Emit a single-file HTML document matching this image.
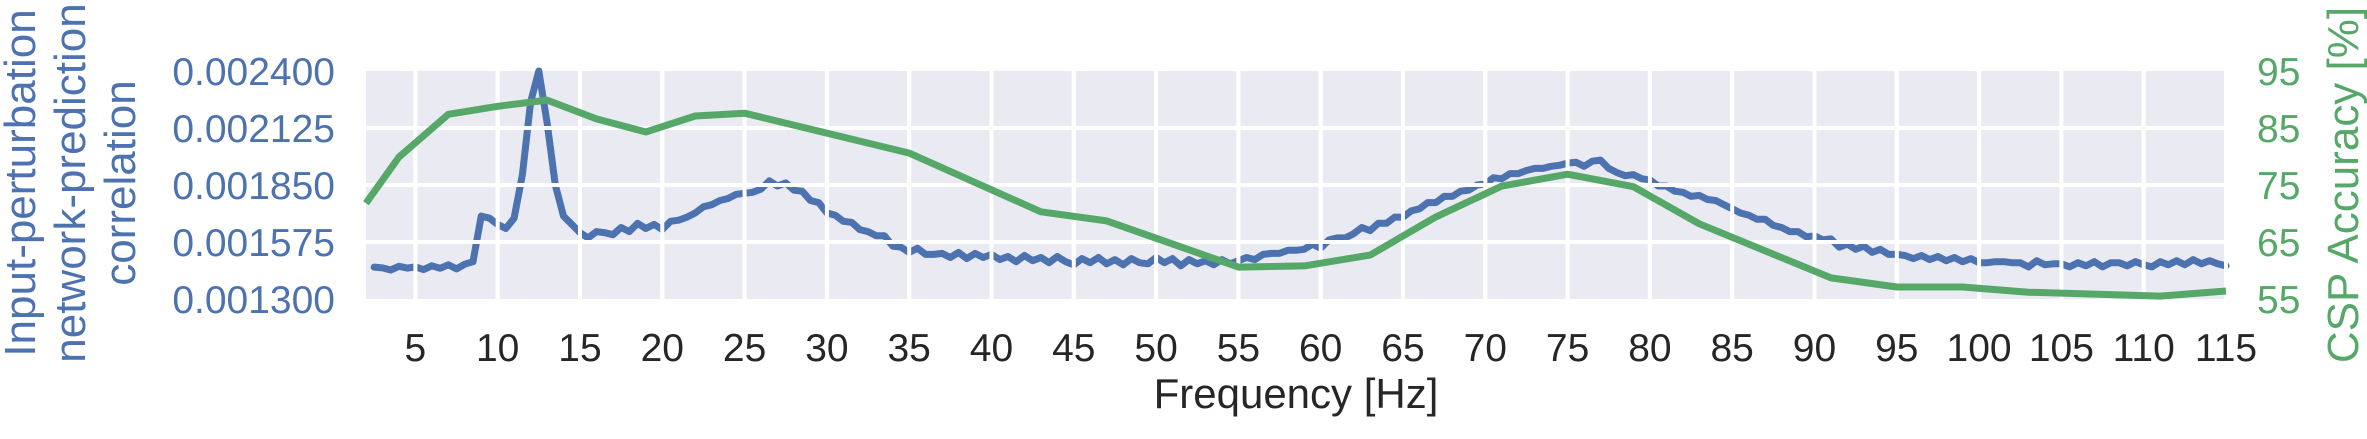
<!DOCTYPE html>
<html><head><meta charset="utf-8"><style>
body{margin:0;background:#fff;}
svg text{font-family:"Liberation Sans",sans-serif;}
</style></head><body>
<svg id="chart" width="2367" height="434" xmlns="http://www.w3.org/2000/svg">
<rect x="366" y="71" width="1860" height="228" fill="#eaeaf2"/>
<g id="grid1"></g>
<g id="blue"></g>
<g id="grid2"></g>
<g id="green"></g>
<g id="ticks"></g>
<text x="1296" y="408" font-size="42" text-anchor="middle" fill="#262626">Frequency [Hz]</text>
<g fill="#4c72b0" font-size="44" text-anchor="middle">
<text transform="translate(35,183) rotate(-90)">Input-perturbation</text>
<text transform="translate(85,183) rotate(-90)">network-prediction</text>
<text transform="translate(135,183) rotate(-90)">correlation</text>
</g>
<text transform="translate(2358,185) rotate(-90)" font-size="44" text-anchor="middle" fill="#55a868">CSP Accuracy [%]</text>
</svg>
<script>
const xTicks=[5,10,15,20,25,30,35,40,45,50,55,60,65,70,75,80,85,90,95,100,105,110,115];
const leftTicks=[0.0013,0.001575,0.00185,0.002125,0.0024];
const leftTickLabels=["0.001300","0.001575","0.001850","0.002125","0.002400"];
const rightTicks=[55,65,75,85,95];
const cspFreq=[2,4,7,10,13,16,19,22,25,35,43,47,55,59,63,67,71,75,79,83,91,95,99,103,111,115];
const cspAcc=[71.8,79.9,87.4,88.8,89.9,86.6,84.3,87.1,87.6,80.6,70.3,68.7,60.6,60.8,62.7,69.4,74.8,76.9,74.7,68.2,58.7,57.1,57.1,56.2,55.5,56.4];
const corrStart=2.5, corrStep=0.5;
const corrE6=[1454,1450,1440,1458,1449,1455,1442,1460,1448,1465,1445,1468,1480,
1700,1690,1660,1640,1690,1900,2250,2400,2150,1850,1700,1660,1620,1595,1625,1620,1610,1645,1625,1665,1640,1660,1635,1675,1680,1695,1715,1745,1755,1775,1785,1805,1810,1815,1830,1870,1845,1860,1825,1820,1775,1765,1715,1705,1675,1670,1635,1625,1605,1605,1555,1550,1525,1545,1515,1515,1520,1500,1525,1495,1520,1500,1515,1490,1505,1480,1510,1485,1500,1475,1505,1480,1465,1495,1475,1500,1470,1490,1465,1495,1475,1470,1500,1475,1495,1460,1490,1470,1485,1465,1490,1470,1485,1500,1490,1515,1520,1520,1535,1535,1540,1565,1545,1585,1595,1595,1615,1645,1630,1665,1665,1695,1695,1725,1735,1765,1765,1795,1795,1820,1825,1850,1855,1885,1880,1905,1905,1920,1930,1930,1940,1945,1955,1960,1940,1965,1970,1930,1910,1895,1900,1880,1875,1845,1845,1820,1815,1795,1800,1780,1775,1755,1735,1715,1705,1685,1685,1655,1645,1625,1625,1600,1605,1585,1590,1550,1565,1540,1555,1525,1540,1515,1515,1510,1495,1510,1490,1505,1485,1500,1480,1495,1475,1475,1480,1480,1475,1475,1455,1485,1465,1470,1470,1455,1475,1460,1480,1455,1475,1475,1460,1480,1465,1455,1480,1465,1485,1465,1490,1470,1485,1470,1460];

const NS="http://www.w3.org/2000/svg";
const L=366,R=2226,T=71,B=299,xmin=2,xmax=115;
const xs=f=>L+(f-xmin)/(xmax-xmin)*(R-L);
const yl=v=>B-(v-0.0013)/(0.0024-0.0013)*(B-T);
const yr=v=>B-(v-55)/(95-55)*(B-T);
function mk(tag,attrs,parent){const e=document.createElementNS(NS,tag);for(const k in attrs)e.setAttribute(k,attrs[k]);parent.appendChild(e);return e;}
function grid(g){
  xTicks.forEach(t=>{const l=mk('line',{x1:xs(t),x2:xs(t),y1:T,y2:B,stroke:'#fff','stroke-width':4},g);
    
    });
  leftTicks.slice(1,-1).forEach(t=>{const l=mk('line',{x1:L,x2:R,y1:yl(t),y2:yl(t),stroke:'#fff','stroke-width':4},g);
    
    });
}
grid(document.getElementById('grid1'));
grid(document.getElementById('grid2'));
let d='';
corrE6.forEach((v,i)=>{const f=corrStart+i*corrStep;d+=(i?'L':'M')+xs(f).toFixed(1)+','+yl(v*1e-6).toFixed(1);});
const bp=mk('path',{d:d,fill:'none',stroke:'#4c72b0','stroke-width':7,'stroke-linejoin':'round','stroke-linecap':'round'},document.getElementById('blue'));


let d2='';
cspFreq.forEach((f,i)=>{d2+=(i?'L':'M')+xs(f).toFixed(1)+','+yr(cspAcc[i]).toFixed(1);});
const gp=mk('path',{d:d2,fill:'none',stroke:'#55a868','stroke-width':7,'stroke-linejoin':'round'},document.getElementById('green'));


const tg=document.getElementById('ticks');
xTicks.forEach(t=>{const e=mk('text',{x:xs(t),y:361,'font-size':39,'text-anchor':'middle',fill:'#262626'},tg);e.textContent=t;
  
  });
leftTicks.forEach((t,i)=>{const e=mk('text',{x:335,y:yl(t)+14,'font-size':39,'text-anchor':'end',fill:'#4c72b0'},tg);e.textContent=leftTickLabels[i];
  
  });
rightTicks.forEach(t=>{const e=mk('text',{x:2257,y:yr(t)+14,'font-size':39,'text-anchor':'start',fill:'#55a868'},tg);e.textContent=t;
  
  });
</script>
</body></html>
